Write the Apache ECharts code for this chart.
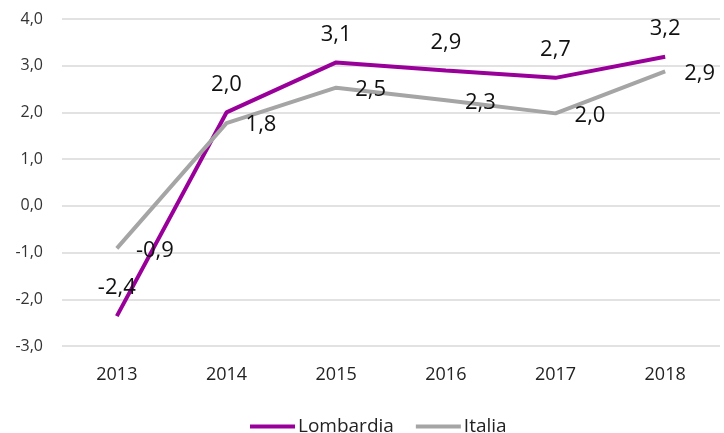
<!DOCTYPE html>
<html>
<head>
<meta charset="utf-8">
<script src="https://cdn.jsdelivr.net/npm/echarts@6/dist/echarts.min.js"></script>
<style>
html,body{margin:0;padding:0;background:#fff;}
#main{width:724px;height:433px;}
</style>
</head>
<body>
<div id="main"></div>
<script>
// dati
var anni = ['2013', '2014', '2015', '2016', '2017', '2018'];
var lombardia = [-2.36, 2.0, 3.07, 2.9, 2.74, 3.19];
var italia = [-0.91, 1.77, 2.53, 2.26, 1.98, 2.88];

var fmt = function (v) { return v.toFixed(1).replace('.', ','); };
var font = 'Open Sans';

var myChart = echarts.init(document.getElementById('main'));
var option = {
    animation: false,
    textStyle: { fontFamily: font },
    legend: {
        data: ['Lombardia', 'Italia'],
        top: 412,
        left: 245,
        itemWidth: 45,
        itemHeight: 4,
        itemGap: 22,
        icon: 'rect',
        textStyle: { color: '#222', fontSize: 19, fontFamily: font, padding: [0, 0, 0, -2] }
    },
    grid: {
        left: 62,
        right: 4,
        top: 19,
        height: 327
    },
    xAxis: {
        type: 'category',
        data: anni,
        axisLine: { show: false },
        axisTick: { show: false },
        axisLabel: { color: '#222', fontSize: 18, margin: 20 }
    },
    yAxis: {
        type: 'value',
        min: -3,
        max: 4,
        interval: 1,
        axisLabel: {
            color: '#333',
            fontSize: 16,
            margin: 19,
            formatter: function (v) { return fmt(v); }
        },
        splitLine: { lineStyle: { color: '#d9d9d9', width: 1.5 } }
    },
    series: [{
        name: 'Lombardia',
        type: 'line',
        data: lombardia,
        symbol: 'circle',
        symbolSize: 0.1,
        color: '#990099',
        lineStyle: { width: 4 },
        label: {
            show: true,
            position: 'top',
            distance: 17,
            fontSize: 22,
            color: '#111',
            formatter: function (p) { return fmt(p.value); }
        }
    }, {
        name: 'Italia',
        type: 'line',
        data: italia,
        symbol: 'circle',
        symbolSize: 0.1,
        color: '#a5a5a5',
        lineStyle: { width: 4 },
        label: {
            show: true,
            position: 'right',
            distance: 19,
            offset: [0, 2],
            fontSize: 22,
            color: '#111',
            formatter: function (p) { return fmt(p.value); }
        }
    }]
};
myChart.setOption(option);
</script>
</body>
</html>
